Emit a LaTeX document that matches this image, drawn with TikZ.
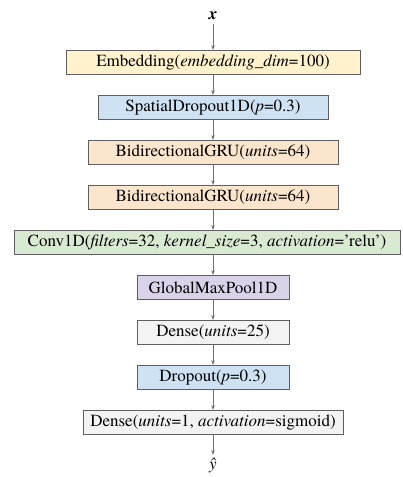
\documentclass[tikz,border=0pt]{standalone}
\usepackage{fontspec}
\setmainfont{texgyretermes-regular.otf}[
  Ligatures=TeX,
  BoldFont=texgyretermes-bold.otf,
  ItalicFont=texgyretermes-italic.otf,
  BoldItalicFont=texgyretermes-bolditalic.otf]
\usetikzlibrary{arrows.meta}
\definecolor{embfill}{HTML}{FFF2CC}
\definecolor{dropfill}{HTML}{CFE2F3}
\definecolor{grufill}{HTML}{FCE5CD}
\definecolor{convfill}{HTML}{D9EAD3}
\definecolor{poolfill}{HTML}{D9D2E9}
\definecolor{densefill}{HTML}{F3F3F3}
\definecolor{layerline}{HTML}{5F5F5F}
\definecolor{flowline}{HTML}{707070}
\tikzset{
  layer/.style={draw=layerline, line width=0.8pt, minimum height=24pt,
    inner xsep=4pt, inner ysep=0pt,
    font=\fontsize{17}{20}\selectfont},
  flow/.style={draw=flowline, line width=0.8pt, -{Stealth[length=5pt,width=3.5pt]}}
}
\begin{document}
\begin{tikzpicture}[x=1pt,y=1pt]
  \useasboundingbox (0,0) rectangle (403,477);
  % input on top
  \node[font=\fontsize{17}{20}\selectfont] (xin) at (213,461) {\textbf{\textit{x}}};
  % embedding layer
  \node[layer, fill=embfill, minimum width=294pt] (emb) at (213,414.5)
    {Embedding(\textit{embedding\_dim}=100)};
  % spatial dropout
  \node[layer, fill=dropfill, minimum width=230pt] (sdrop) at (213,369.5)
    {SpatialDropout1D(\textit{p}=0.3)};
  % two recurrent layers
  \node[layer, fill=grufill, minimum width=250pt] (bigru1) at (213,324.5)
    {BidirectionalGRU(\textit{units}=64)};
  \node[layer, fill=grufill, minimum width=250pt] (bigru2) at (213,279.5)
    {BidirectionalGRU(\textit{units}=64)};
  % convolution (widest box)
  \node[layer, fill=convfill, minimum width=386pt] (conv) at (207,234.5)
    {Conv1D(\textit{filters}=32, \textit{kernel\_size}=3, \textit{activation}='relu')};
  % pooling and dense head
  \node[layer, fill=poolfill, minimum width=152pt] (gmp) at (213,189.5)
    {GlobalMaxPool1D};
  \node[layer, fill=densefill, minimum width=152pt] (dense1) at (213,144.5)
    {Dense(\textit{units}=25)};
  \node[layer, fill=dropfill, minimum width=152pt] (drop) at (213,99.5)
    {Dropout(\textit{p}=0.3)};
  \node[layer, fill=densefill, minimum width=260pt] (dense2) at (213,54.5)
    {Dense(\textit{units}=1, \textit{activation}=sigmoid)};
  % output
  \node[font=\fontsize{17}{20}\selectfont] (yout) at (213,11) {\textit{ŷ}};
  % arrows down the stack
  \draw[flow] (xin) -- (emb);
  \draw[flow] (emb) -- (sdrop);
  \draw[flow] (sdrop) -- (bigru1);
  \draw[flow] (bigru1) -- (bigru2);
  \draw[flow] (bigru2) -- (bigru2 |- conv.north);
  \draw[flow] (bigru2 |- conv.south) -- (gmp);
  \draw[flow] (gmp) -- (dense1);
  \draw[flow] (dense1) -- (drop);
  \draw[flow] (drop) -- (dense2);
  \draw[flow] (dense2) -- (yout);
\end{tikzpicture}
\end{document}
